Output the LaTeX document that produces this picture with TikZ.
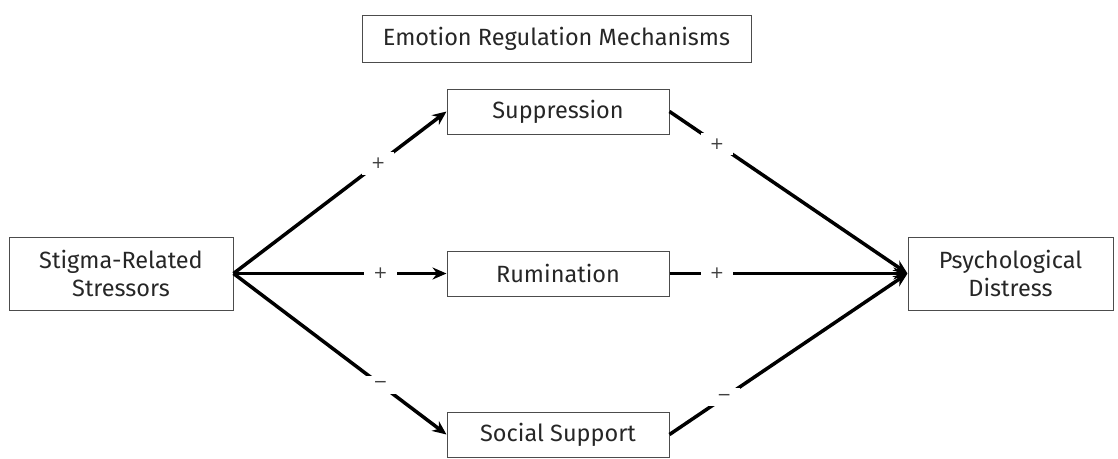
\documentclass[tikz,border=0pt]{standalone}
\usepackage{fontspec}
\setmainfont{Fira Sans}
\newfontfamily\signfont{DejaVu Sans}
\usetikzlibrary{arrows.meta}
\begin{document}
\begin{tikzpicture}[x=1pt,y=-1pt,
  box/.style={draw=black!70, line width=1pt, inner sep=0pt, align=center, text=black!85, font=\fontsize{23.5}{28}\selectfont},
  conn/.style={line width=3.5pt, -{Stealth[length=14pt,width=12pt]}},
  sign/.style={fill=white, inner xsep=9pt, inner ysep=6pt, text=black!75, font=\signfont\fontsize{17}{19}\selectfont}]
\useasboundingbox (0,0) rectangle (1118,458);
\node[box, minimum width=389pt, minimum height=47pt] (erm) at (556.5,38.5) {Emotion Regulation Mechanisms};
\node[box, minimum width=222pt, minimum height=45pt] (sup) at (558,111.5) {Suppression};
\node[box, minimum width=222pt, minimum height=45pt] (rum) at (558,273.5) {Rumination};
\node[box, minimum width=222pt, minimum height=45pt] (soc) at (558,434.5) {Social Support};
\node[box, minimum width=224pt, minimum height=73pt] (srs) at (121,273.5) {Stigma-Related\\Stressors};
\node[box, minimum width=205pt, minimum height=73pt] (pd) at (1010.5,273.5) {Psychological\\Distress};
\coordinate (s) at (srs.east);
\coordinate (p) at (pd.west);
\draw[conn] (s) -- node[sign, pos=0.68] {+} (sup.west);
\draw[conn] (s) -- node[sign, pos=0.69] {+} (rum.west);
\draw[conn] (s) -- node[sign, pos=0.69] {−} (soc.west);
\draw[conn] (sup.east) -- node[sign, pos=0.2] {+} (p);
\draw[conn] (rum.east) -- node[sign, pos=0.2] {+} (p);
\draw[conn] (soc.east) -- node[sign, pos=0.23] {−} (p);
\end{tikzpicture}
\end{document}
